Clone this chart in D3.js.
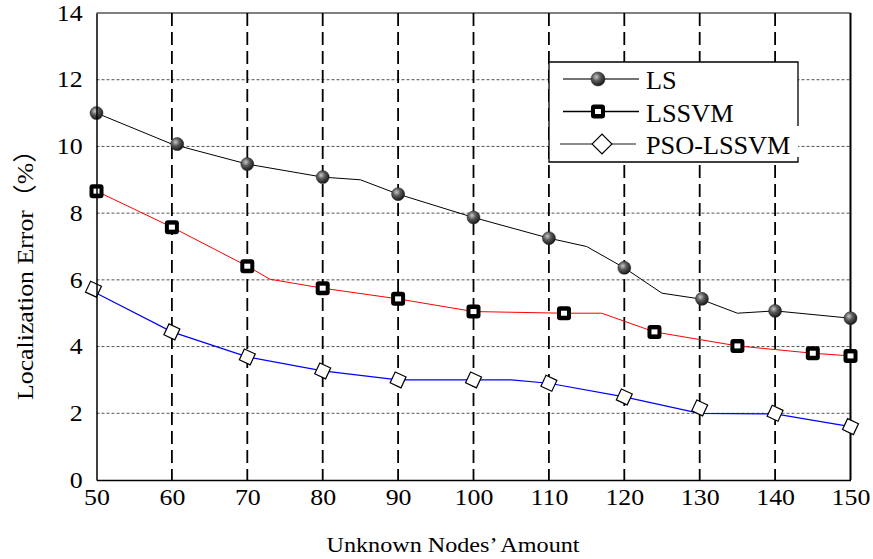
<!DOCTYPE html>
<html>
<head>
<meta charset="utf-8">
<script src="https://cdn.jsdelivr.net/npm/d3@7"></script>
<style>
  body { margin: 0; background: #fff; }
  text { font-family: "Liberation Serif", "Times New Roman", serif; fill: #000; }
</style>
</head>
<body>
<svg width="873" height="559"></svg>
<script>
(function() {
    'use strict';

    // ---- data ----
    var xTicks = [50, 60, 70, 80, 90, 100, 110, 120, 130, 140, 150];
    var yTicks = [0, 2, 4, 6, 8, 10, 12, 14];
    var gridY = [2, 4, 6, 8, 10, 12];
    var gridX = [60, 70, 80, 90, 100, 110, 120, 130, 140];
    var seriesNames = ["LS", "LSSVM", "PSO-LSSVM"];

    // LS
    var lsLineX = [50, 60, 70, 80, 85, 90, 100, 110, 115, 120, 125, 130, 135, 140, 150];
    var lsLineY = [11.0, 10.07, 9.47, 9.08, 9.0, 8.57, 7.87, 7.25, 7.0, 6.36, 5.6, 5.43, 5.0, 5.07, 4.85];
    var lsMarkX = [50, 60.7, 70, 80, 90, 100, 110, 120, 130.3, 140, 150];
    var lsMarkY = [11.0, 10.07, 9.47, 9.08, 8.57, 7.87, 7.25, 6.36, 5.43, 5.07, 4.85];

    // LSSVM
    var svmLineX = [50, 60, 70, 73, 80, 90, 100, 112, 117, 124, 135, 145, 150];
    var svmLineY = [8.66, 7.58, 6.41, 6.02, 5.75, 5.43, 5.05, 5.0, 5.0, 4.44, 4.02, 3.8, 3.72];
    var svmMarkX = [50, 60, 70, 80, 90, 100, 112, 124, 135, 145, 150];
    var svmMarkY = [8.66, 7.58, 6.41, 5.75, 5.43, 5.05, 5.0, 4.44, 4.02, 3.8, 3.72];

    // PSO-LSSVM
    var psoLineX = [50, 60, 70, 80, 90, 100, 105, 110, 120, 130, 140, 150];
    var psoLineY = [5.6, 4.44, 3.69, 3.27, 3.0, 3.0, 3.0, 2.9, 2.49, 2.0, 1.98, 1.6];
    var psoMarkX = [49.6, 60, 70, 80, 90, 100, 110, 120, 130, 140, 150];
    var psoMarkY = [5.72, 4.44, 3.69, 3.27, 3.0, 3.0, 2.9, 2.49, 2.16, 2.0, 1.6];

    var svg = d3.select("svg");

    var x = d3.scaleLinear().domain([50, 150]).range([96.5, 850.5]);
    var y = d3.scaleLinear().domain([0, 14]).range([480, 13]);

    var defs = svg.append("defs");
    var grad = defs.append("radialGradient")
        .attr("id", "ball").attr("cx", "38%").attr("cy", "35%").attr("r", "65%");
    grad.append("stop").attr("offset", "0%").attr("stop-color", "#c8c8c8");
    grad.append("stop").attr("offset", "45%").attr("stop-color", "#5a5a5a");
    grad.append("stop").attr("offset", "100%").attr("stop-color", "#1a1a1a");

    // horizontal dotted grid
    svg.append("g").selectAll("line")
        .data(gridY)
      .enter().append("line")
        .attr("x1", x(50)).attr("x2", x(150))
        .attr("y1", function(d) { return y(d); })
        .attr("y2", function(d) { return y(d); })
        .attr("stroke", "#555")
        .attr("stroke-width", 1)
        .attr("stroke-dasharray", "3,2");

    // vertical dashed grid
    svg.append("g").selectAll("line")
        .data(gridX)
      .enter().append("line")
        .attr("x1", function(d) { return x(d); })
        .attr("x2", function(d) { return x(d); })
        .attr("y1", y(14)).attr("y2", y(0))
        .attr("stroke", "#000")
        .attr("stroke-width", 1.8)
        .attr("stroke-dasharray", "13,6");

    function zip(xs, ys) {
        return xs.map(function(v, i) { return [v, ys[i]]; });
    }

    var line = d3.line()
        .x(function(d) { return x(d[0]); })
        .y(function(d) { return y(d[1]); });

    svg.append("path").datum(zip(lsLineX, lsLineY))
        .attr("d", line).attr("fill", "none").attr("stroke", "#000").attr("stroke-width", 1);
    svg.append("path").datum(zip(svmLineX, svmLineY))
        .attr("d", line).attr("fill", "none").attr("stroke", "#f00").attr("stroke-width", 1);
    svg.append("path").datum(zip(psoLineX, psoLineY))
        .attr("d", line).attr("fill", "none").attr("stroke", "#00f").attr("stroke-width", 1.2);

    // frame
    svg.append("line").attr("x1", x(50)).attr("x2", x(150)).attr("y1", y(14)).attr("y2", y(14))
        .attr("stroke", "#000").attr("stroke-width", 1);
    svg.append("line").attr("x1", x(150)).attr("x2", x(150)).attr("y1", y(14)).attr("y2", y(0))
        .attr("stroke", "#000").attr("stroke-width", 2);

    // marker drawers
    function drawBall(g, cx, cy, r) {
        g.append("circle").attr("cx", cx).attr("cy", cy).attr("r", r)
            .attr("fill", "url(#ball)").attr("stroke", "#222").attr("stroke-width", 0.5);
    }
    function drawBox(g, cx, cy) {
        g.append("rect").attr("x", cx - 7).attr("y", cy - 7).attr("width", 14).attr("height", 14)
            .attr("rx", 3).attr("fill", "#000");
        g.append("rect").attr("x", cx - 3).attr("y", cy - 2.5).attr("width", 6).attr("height", 5)
            .attr("fill", "#fff");
    }
    function drawDiamond(g, cx, cy, s, ang) {
        g.append("rect").attr("x", -s / 2).attr("y", -s / 2).attr("width", s).attr("height", s)
            .attr("transform", "translate(" + cx + "," + cy + ") rotate(" + ang + ")")
            .attr("fill", "#fff").attr("stroke", "#000").attr("stroke-width", 1.2);
    }

    var marks = svg.append("g");
    zip(psoMarkX, psoMarkY).forEach(function(d) { drawDiamond(marks, x(d[0]), y(d[1]), 12, 25); });
    zip(svmMarkX, svmMarkY).forEach(function(d) { drawBox(marks, x(d[0]), y(d[1])); });
    zip(lsMarkX, lsMarkY).forEach(function(d) { drawBall(marks, x(d[0]), y(d[1]), 6.5); });

    // axes
    var gx = svg.append("g")
        .attr("transform", "translate(0," + y(0) + ")")
        .call(d3.axisBottom(x).tickValues(xTicks).tickSize(0).tickPadding(9));
    gx.select(".domain").attr("stroke-width", 1.5);
    gx.selectAll("text")
        .attr("font-size", "22.5px")
        .attr("font-family", "Liberation Serif")
        .attr("transform", "scale(1.15,1)");

    var gy = svg.append("g")
        .attr("transform", "translate(" + x(50) + ",0)")
        .call(d3.axisLeft(y).tickValues(yTicks).tickSize(0).tickPadding(12));
    gy.select(".domain").attr("stroke-width", 1.5);
    gy.selectAll("text")
        .attr("font-size", "22.5px")
        .attr("font-family", "Liberation Serif")
        .attr("transform", "scale(1.15,1)");

    // axis titles
    svg.append("text")
        .attr("x", 453).attr("y", 552)
        .attr("text-anchor", "middle")
        .attr("font-size", "21px")
        .attr("textLength", 253)
        .attr("lengthAdjust", "spacingAndGlyphs")
        .text("Unknown Nodes\u2019 Amount");

    svg.append("text")
        .attr("transform", "translate(33,268.5) rotate(-90)")
        .attr("text-anchor", "middle")
        .attr("font-size", "24px")
        .attr("textLength", 263)
        .attr("lengthAdjust", "spacingAndGlyphs")
        .style("font-family", "'Liberation Serif', 'Noto Sans CJK SC', serif")
        .text("Localization Error\uff08%\uff09");

    // legend
    var lg = svg.append("g");
    lg.append("rect").attr("x", 549).attr("y", 62).attr("width", 249).attr("height", 100)
        .attr("fill", "#fff");
    lg.append("path")
        .attr("d", "M798,126 V62 H549 V162 H798 V157")
        .attr("fill", "none").attr("stroke", "#000").attr("stroke-width", 1.3);

    var legendLine = ["#444", "#000", "#666"];
    seriesNames.forEach(function(name, i) {
        var ly = 79 + i * 32.5;
        lg.append("line").attr("x1", i === 2 ? 560 : 563).attr("x2", i === 2 ? 636 : 639)
            .attr("y1", ly).attr("y2", ly)
            .attr("stroke", legendLine[i]).attr("stroke-width", 1.3);
        if (i === 0) drawBall(lg, 598, ly, 7);
        if (i === 1) drawBox(lg, 598, ly);
        if (i === 2) drawDiamond(lg, 602, ly, 14, 45);
        lg.append("text")
            .attr("transform", "translate(646," + (ly + 10) + ") scale(1.05,1)")
            .attr("font-size", "25px")
            .text(name);
    });
}());
</script>
</body>
</html>
